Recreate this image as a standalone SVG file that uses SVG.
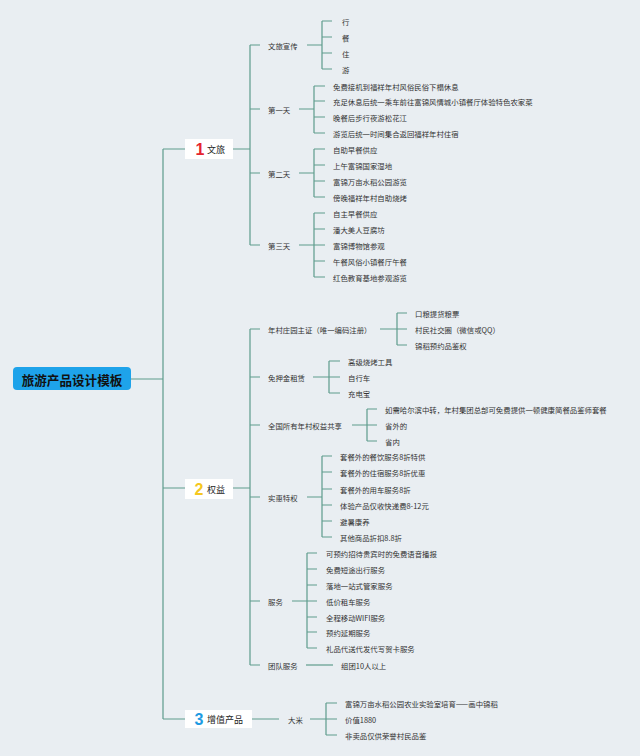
<svg xmlns="http://www.w3.org/2000/svg" width="640" height="756" viewBox="0 0 640 756">
<style>
.bg{fill:#e9eef2}
.ln{fill:none;stroke:#5e9c8c;stroke-width:1.2}
.t{font-family:"Noto Sans CJK SC","Noto Sans",sans-serif;font-size:7.4px;fill:#333;dominant-baseline:central}
.bt{font-family:"Noto Sans CJK SC","Noto Sans",sans-serif;font-size:9px;fill:#222;dominant-baseline:central}
.num{font-family:"Liberation Sans","Noto Sans",sans-serif;font-size:16px;font-weight:bold;dominant-baseline:central}
.box{fill:#ffffff}
.root{fill:#1ea3ea}
.rt{font-family:"Noto Sans CJK SC","Noto Sans",sans-serif;font-size:12.6px;font-weight:bold;fill:#111;dominant-baseline:central}
</style>
<rect class="bg" x="0" y="0" width="640" height="756"/>
<g id="connectors">
<path class="ln" d="M131 379H163M163 149V719M163 149H185M163 488H185M163 719H185"/>
<path class="ln" d="M233 149H250M250 45V245M250 45H260M250 109H260M250 173H260M250 245H260"/>
<path class="ln" d="M307 45H322M322 21V69M322 21H332M322 37H332M322 53H332M322 69H332"/>
<path class="ln" d="M299 109H314M314 86V133M314 86H325M314 101H325M314 117H325M314 133H325"/>
<path class="ln" d="M299 173H314M314 149V197M314 149H325M314 165H325M314 181H325M314 197H325"/>
<path class="ln" d="M299 245H314M314 213V277M314 213H325M314 229H325M314 245H325M314 261H325M314 277H325"/>
<path class="ln" d="M233 488H250M250 329V665M250 329H260M250 377H260M250 425H260M250 497H260M250 601H260M250 665H260"/>
<path class="ln" d="M380 329H397M397 313V345M397 313H407M397 329H407M397 345H407"/>
<path class="ln" d="M313 377H329M329 361V393M329 361H340M329 377H340M329 393H340"/>
<path class="ln" d="M352 425H367M367 409V441M367 409H377M367 425H377M367 441H377"/>
<path class="ln" d="M307 497H322M322 456V537M322 456H332M322 472H332M322 489H332M322 505H332M322 521H332M322 537H332"/>
<path class="ln" d="M292 601H307M307 553V648M307 553H317M307 569H317M307 585H317M307 601H317M307 617H317M307 632H317M307 648H317"/>
<path class="ln" d="M306 665H333"/>
<path class="ln" d="M252 719H279M310 719H326M326 703V735M326 703H337M326 719H337M326 735H337"/>
</g>
<g id="root">
<rect class="root" x="13" y="367" width="118" height="23" rx="4"/>
<text class="rt" x="72" y="379" text-anchor="middle">旅游产品设计模板</text>
</g>
<g id="branch1">
<rect class="box" x="185" y="139" width="48" height="20"/>
<text class="num" x="200" y="149" text-anchor="middle" fill="#e5242f">1</text>
<text class="bt" x="207" y="149">文旅</text>
</g>
<g id="wenlv-xuanchuan">
<text class="t" x="268" y="45">文旅宣传</text>
<text class="t" x="342" y="21">行</text>
<text class="t" x="342" y="37">餐</text>
<text class="t" x="342" y="53">住</text>
<text class="t" x="342" y="69">游</text>
</g>
<g id="day1">
<text class="t" x="268" y="109">第一天</text>
<text class="t" x="333" y="86">免费接机到福祥年村风俗民俗下榻休息</text>
<text class="t" x="333" y="101">充足休息后统一乘车前往富锦风情城小镇餐厅体验特色农家菜</text>
<text class="t" x="333" y="117">晚餐后步行夜游松花江</text>
<text class="t" x="333" y="133">游览后统一时间集合返回福祥年村住宿</text>
</g>
<g id="day2">
<text class="t" x="268" y="173">第二天</text>
<text class="t" x="333" y="149">自助早餐供应</text>
<text class="t" x="333" y="165">上午富锦国家湿地</text>
<text class="t" x="333" y="181">富锦万亩水稻公园游览</text>
<text class="t" x="333" y="197">傍晚福祥年村自助烧烤</text>
</g>
<g id="day3">
<text class="t" x="268" y="245">第三天</text>
<text class="t" x="333" y="213">自主早餐供应</text>
<text class="t" x="333" y="229">潘大美人豆腐坊</text>
<text class="t" x="333" y="245">富锦博物馆参观</text>
<text class="t" x="333" y="261">午餐风俗小镇餐厅午餐</text>
<text class="t" x="333" y="277">红色教育基地参观游览</text>
</g>
<g id="branch2">
<rect class="box" x="185" y="479" width="48" height="20"/>
<text class="num" x="199" y="489" text-anchor="middle" fill="#f5c720">2</text>
<text class="bt" x="207" y="489">权益</text>
</g>
<g id="zhuangyuan">
<text class="t" x="268" y="329">年村庄园主证（唯一编码注册）</text>
<text class="t" x="415" y="313">口粮提货粮票</text>
<text class="t" x="415" y="329">村民社交圈（微信或QQ）</text>
<text class="t" x="415" y="345">锦稻预约品鉴权</text>
</g>
<g id="zulin">
<text class="t" x="268" y="377">免押金租赁</text>
<text class="t" x="348" y="361">高级烧烤工具</text>
<text class="t" x="348" y="377">自行车</text>
<text class="t" x="348" y="393">充电宝</text>
</g>
<g id="gongxiang">
<text class="t" x="268" y="425">全国所有年村权益共享</text>
<text class="t" x="385" y="409">如需哈尔滨中转，年村集团总部可免费提供一顿健康简餐品鉴师套餐</text>
<text class="t" x="385" y="425">省外的</text>
<text class="t" x="385" y="441">省内</text>
</g>
<g id="tequan">
<text class="t" x="268" y="497">实惠特权</text>
<text class="t" x="340" y="456">套餐外的餐饮服务8折特供</text>
<text class="t" x="340" y="472">套餐外的住宿服务8折优惠</text>
<text class="t" x="340" y="489">套餐外的用车服务8折</text>
<text class="t" x="340" y="505">体验产品仅收快递费8-12元</text>
<text class="t" x="340" y="521">避暑康养</text>
<text class="t" x="340" y="537">其他商品折扣8.8折</text>
</g>
<g id="fuwu">
<text class="t" x="268" y="601">服务</text>
<text class="t" x="326" y="553">可预约招待贵宾时的免费语音播报</text>
<text class="t" x="326" y="569">免费短途出行服务</text>
<text class="t" x="326" y="585">落地一站式管家服务</text>
<text class="t" x="326" y="601">低价租车服务</text>
<text class="t" x="326" y="617">全程移动WIFI服务</text>
<text class="t" x="326" y="632">预约延期服务</text>
<text class="t" x="326" y="648">礼品代送代发代写贺卡服务</text>
</g>
<g id="tuandui">
<text class="t" x="268" y="665">团队服务</text>
<text class="t" x="341" y="665">组团10人以上</text>
</g>
<g id="branch3">
<rect class="box" x="185" y="710" width="67" height="18"/>
<text class="num" x="199" y="719" text-anchor="middle" fill="#1e9be2">3</text>
<text class="bt" x="207" y="719">增值产品</text>
</g>
<g id="dami">
<text class="t" x="288" y="719">大米</text>
<text class="t" x="345" y="703">富锦万亩水稻公园农业实验室培育——画中锦稻</text>
<text class="t" x="345" y="719">价值1880</text>
<text class="t" x="345" y="735">非卖品仅供荣誉村民品鉴</text>
</g>
</svg>
